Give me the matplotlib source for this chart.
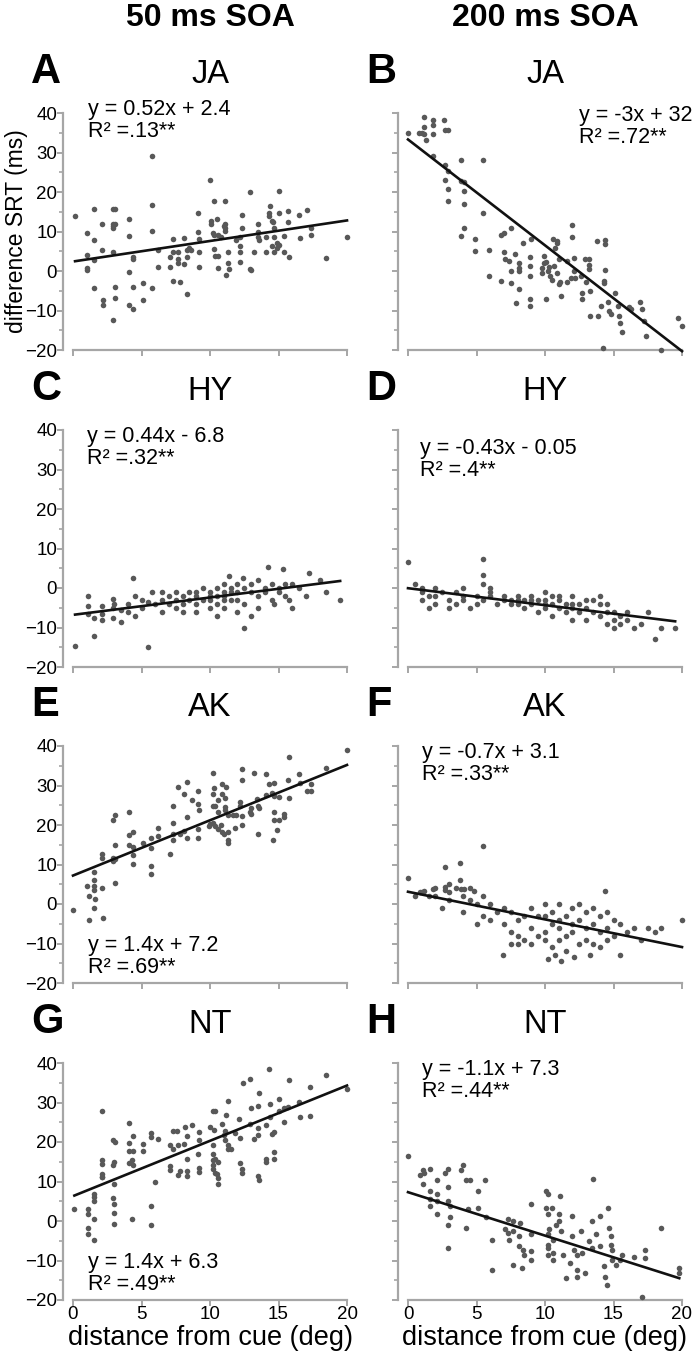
import numpy as np
import matplotlib.pyplot as plt

plt.rcParams['font.family'] = ['Liberation Sans', 'DejaVu Sans']

# (distance from cue deg, difference SRT ms)
ja50 = [(0.15,13.8),(1.05,9.6),(1.5,15.7),(1.5,7.9),(1.05,4.1),(1.05,0.8),(1.05,0.2),(1.5,2.8),(1.5,-4.2),
        (2.1,12.0),(2.1,5.3),(2.2,-7.4),(2.2,-8.5),(2.9,15.7),(2.9,12.0),(2.9,11.4),(2.9,10.8),(3.1,15.8),
        (3.1,11.9),(2.9,4.9),(3.1,-4.0),(3.1,-6.9),(2.9,-12.5),(4.1,13.1),(4.1,8.9),(4.1,-0.3),(4.1,-8.5),
        (4.4,-9.7),(4.4,3.6),(4.4,3.1),(4.4,-4.0),(5.1,-3.1),(5.1,-7.4),(5.8,29.1),(5.8,16.8),(5.8,10.2),
        (5.8,-4.2),(6.2,5.3),(6.2,1.0),(7.1,1.0),(7.3,8.1),(7.1,3.6),(7.3,-2.5),(7.3,4.7),(7.7,4.7),(7.7,2.1),
        (7.8,-2.8),(7.7,3.0),(8.1,1.7),(8.1,8.4),(8.3,5.3),(8.3,3.6),(8.3,-5.7),(8.5,5.8),(8.6,5.3),(9.1,14.6),
        (9.1,9.9),(9.2,8.1),(9.2,4.8),(9.2,1.1),(10.0,23.0),(10.1,12.7),(10.1,12.0),(10.2,9.6),(10.3,17.8),
        (10.3,9.2),(10.3,5.5),(10.4,3.7),(10.5,13.1),(10.6,9.2),(10.6,3.8),(10.6,0.8),(10.8,8.5),(11.0,11.4),
        (11.1,12.0),(11.1,10.8),(11.1,17.8),(11.1,10.2),(11.3,4.8),(11.2,-1.1),(11.3,1.9),(11.4,0.6),(11.9,7.9),
        (12.2,6.4),(12.2,4.7),(12.2,2.3),(12.3,14.2),(12.3,10.9),(12.2,8.5),(12.9,19.9),(12.9,0.6),(13.0,0.2),
        (13.2,4.7),(13.5,11.9),(13.5,8.5),(13.5,9.9),(13.6,7.9),(14.1,8.7),(14.1,4.7),(14.3,14.6),(14.3,13.8),
        (14.4,16.4),(14.5,6.4),(14.5,12.7),(14.6,12.4),(14.7,11.0),(14.7,4.7),(14.7,8.7),(14.9,5.9),(14.9,7.2),
        (15.0,6.6),(15.0,20.2),(15.0,14.8),(15.4,8.9),(15.4,4.9),(15.7,15.3),(15.7,12.5),(15.8,3.6),(16.5,14.2),
        (16.6,8.4),(17.1,15.4),(17.4,10.8),(17.4,9.2),(18.5,3.2),(20.0,8.6)]

ja200 = [(0.0,34.9),(0.8,34.9),(1.0,34.9),(1.2,39.0),(1.2,36.4),(1.2,34.6),(1.3,33.1),(1.8,38.3),(1.85,37.0),
         (1.85,34.6),(2.65,38.3),(2.7,35.6),(2.9,35.6),(1.85,29.2),(2.7,26.9),(2.9,25.4),(3.9,28.0),(5.5,28.0),
         (2.7,23.1),(3.9,22.9),(4.1,22.5),(2.9,20.8),(4.1,20.3),(2.9,17.6),(4.1,16.9),(5.5,14.8),(4.1,10.8),
         (3.85,8.9),(4.9,8.2),(4.9,5.1),(5.9,5.3),(6.8,9.2),(7.0,9.6),(7.5,10.8),(7.0,4.8),(7.1,3.1),(7.4,2.5),
         (7.8,4.2),(8.1,2.1),(8.1,0.7),(8.1,0.0),(7.5,0.0),(5.9,-1.3),(6.8,-2.5),(7.5,-3.0),(8.1,-4.5),(7.9,-8.1),
         (8.9,-7.2),(8.9,-8.9),(8.9,3.6),(8.9,1.3),(8.9,-1.3),(8.4,7.0),(9.0,8.2),(9.9,3.8),(9.8,0.8),(9.8,-0.4),
         (9.95,1.9),(10.1,2.4),(10.2,0.0),(10.3,1.1),(10.4,-1.3),(10.5,-2.4),(10.6,8.1),(10.7,5.9),(10.85,7.2),
         (10.9,7.5),(10.65,1.3),(10.9,-0.4),(11.0,3.0),(11.0,-3.4),(11.1,-2.8),(11.2,-6.4),(10.1,-7.2),(11.6,2.5),
         (11.6,-2.8),(12.0,11.7),(12.0,8.5),(12.1,3.4),(12.1,0.0),(12.2,-1.7),(11.9,-1.7),(12.6,-1.3),(12.7,-5.5),
         (12.7,-7.2),(12.9,3.0),(13.0,-2.8),(13.2,3.0),(13.2,1.5),(13.2,0.4),(13.3,-5.1),(13.3,-11.4),(13.8,7.5),
         (14.4,7.9),(14.4,6.8),(14.4,0.2),(14.3,-2.5),(14.3,-3.1),(13.9,-11.4),(14.1,-8.9),(14.6,-7.9),(14.7,-10.2),
         (14.8,-10.8),(15.1,-5.5),(15.3,-8.9),(15.4,-11.3),(15.5,-13.1),(16.1,-9.2),(16.3,-9.7),(16.9,-7.8),
         (17.1,-9.7),(17.2,-12.7),(19.7,-12.0),(14.2,-19.5),(18.5,-20.0),(15.6,-15.5),(17.4,-16.5),(20.0,-14.0)]

hy50 = [(0.15,-14.8),(1.1,-2.0),(1.1,-4.6),(1.1,-6.5),(1.5,-7.5),(1.5,-12.2),(2.1,-4.6),(2.1,-6.6),(2.1,-8.0),
        (2.9,-2.8),(2.9,-5.0),(2.9,-7.5),(3.5,-8.5),(3.5,-5.5),(4.0,-4.0),(4.0,-6.0),(4.4,2.5),(4.5,-2.0),
        (4.5,-7.0),(5.0,-3.0),(5.0,-5.0),(5.5,-15.0),(5.5,-3.5),(5.8,-1.0),(6.0,-4.0),(6.5,-1.0),(6.5,-6.0),
        (7.0,-2.0),(7.0,-4.0),(7.5,-1.0),(7.5,-3.0),(8.0,-2.0),(8.0,-4.0),(8.0,-6.0),(8.5,-1.0),(8.5,-3.0),
        (9.0,-2.0),(9.0,-4.0),(9.0,-6.0),(9.5,0.0),(9.5,-3.0),(10.0,-1.0),(10.0,-2.0),(10.0,-3.0),(10.0,-5.0),
        (10.5,0.0),(10.5,-2.0),(10.5,-4.0),(10.5,-7.0),(11.0,1.0),(11.0,-1.0),(11.0,-2.0),(11.0,-3.0),(11.0,-5.0),
        (11.4,3.0),(11.5,0.0),(11.5,-1.0),(11.5,-3.0),(12.0,1.0),(12.0,-1.0),(12.0,-6.0),(12.4,2.5),(12.5,0.0),
        (12.5,-4.0),(12.5,-10.0),(13.0,1.0),(13.0,-1.0),(13.0,-7.0),(13.5,-2.0),(13.5,2.0),(14.0,-1.0),(14.0,0.0),
        (14.2,5.4),(14.5,1.0),(14.5,-3.0),(15.0,0.0),(15.0,-1.0),(15.3,4.8),(15.5,1.0),(15.5,-2.0),(16.0,1.0),
        (16.0,-5.0),(17.0,-2.0),(17.2,3.7),(18.0,2.0),(18.5,-1.0),(19.5,-3.0),(13.5,-5.0),(12.0,-3.0),(9.0,-1.0),
        (7.5,-5.0),(6.5,-3.0),(3.0,-4.0),(14.7,-4.0),(15.8,-3.0),(16.5,0.0)]

hy200 = [(0.0,6.5),(0.5,1.0),(1.0,0.0),(1.0,-1.0),(1.0,-3.0),(1.5,-2.0),(1.5,-5.0),(2.0,0.0),(2.0,-2.0),
         (2.0,-4.0),(2.5,-1.0),(3.0,-3.0),(3.0,-5.0),(3.5,-1.0),(3.5,-4.0),(4.0,0.0),(4.0,-3.0),(4.0,-2.0),
         (4.5,-5.0),(5.0,-2.0),(5.0,-4.0),(5.5,7.4),(5.5,3.3),(5.5,1.0),(5.5,-3.0),(6.0,0.0),(6.0,-1.0),(6.0,-2.0),
         (6.5,-4.0),(7.0,-2.0),(7.0,-3.0),(7.5,-3.0),(7.5,-4.0),(8.0,-3.0),(8.0,-2.0),(8.0,-4.0),(8.5,-3.0),
         (8.5,-5.0),(9.0,-2.0),(9.0,-4.0),(9.0,-3.0),(9.5,-3.0),(9.5,-6.0),(10.0,-3.0),(10.0,-4.0),(10.0,-5.0),
         (10.0,-1.0),(10.5,-2.0),(10.5,-4.0),(10.5,-7.0),(11.0,-5.0),(11.0,-3.0),(11.0,-2.0),(11.5,-4.0),(11.5,-6.0),
         (12.0,-4.0),(12.0,-5.0),(12.0,-2.0),(12.0,-8.0),(12.5,-4.0),(12.5,-6.0),(13.0,-5.0),(13.0,-3.0),(13.0,-8.0),
         (13.5,-3.0),(13.5,-6.0),(14.0,-4.0),(14.0,-2.0),(14.0,-7.0),(14.5,-6.0),(14.5,-9.0),(14.5,-4.0),(15.0,-6.0),
         (15.0,-8.0),(15.0,-10.0),(15.5,-7.0),(15.5,-9.0),(16.0,-6.0),(16.0,-8.0),(16.5,-10.0),(17.0,-9.0),
         (17.5,-6.0),(18.0,-13.0),(18.5,-10.0),(19.5,-10.0)]

ak50 = [(20.0,39.0),(15.8,37.3),(10.2,33.2),(12.3,34.1),(13.2,33.2),(14.1,33.0),(12.3,31.5),(18.5,34.4),(16.5,33.0),
        (15.7,31.5),(14.7,30.7),(14.3,30.4),(14.5,28.1),(14.7,27.4),(14.1,27.7),(13.4,26.6),(15.0,27.2),(15.8,26.8),
        (17.4,30.4),(17.4,28.5),(17.1,28.5),(16.6,30.7),(7.7,29.6),(8.3,30.9),(8.1,27.9),(8.7,26.4),(9.1,28.5),
        (9.1,25.3),(9.2,23.8),(10.2,27.9),(10.3,29.3),(10.9,30.3),(11.2,29.7),(10.9,27.9),(11.1,26.8),(10.6,26.3),
        (10.2,24.9),(10.4,24.9),(11.1,24.6),(11.1,23.8),(10.6,23.2),(11.3,22.6),(11.7,22.5),(12.2,25.7),(12.2,24.7),
        (11.9,22.6),(12.3,22.3),(13.0,24.4),(12.9,23.3),(13.0,22.9),(13.5,24.7),(13.6,24.4),(14.7,23.2),(15.4,22.7),
        (15.4,21.9),(14.7,21.3),(15.0,21.3),(14.9,18.7),(14.6,16.3),(13.5,17.6),(12.3,19.9),(11.8,19.3),(11.3,18.3),
        (11.3,15.5),(11.3,16.1),(11.0,17.6),(10.6,18.9),(10.4,19.7),(10.2,20.6),(10.0,20.3),(9.9,19.7),(10.8,19.9),
        (10.9,18.2),(9.1,18.9),(9.1,16.8),(8.3,21.9),(8.3,16.8),(8.1,18.5),(7.8,17.8),(7.3,24.9),(7.3,20.4),
        (7.3,17.6),(7.3,16.3),(7.1,12.7),(6.2,19.3),(6.2,17.2),(5.7,16.6),(5.7,14.2),(5.7,9.7),(5.7,7.6),(5.1,15.5),
        (4.4,18.3),(4.1,23.2),(4.1,17.4),(4.1,15.0),(4.4,14.4),(4.4,12.3),(4.4,10.1),(3.1,22.5),(2.9,21.2),
        (3.1,15.0),(3.1,11.5),(2.9,10.8),(2.9,11.6),(3.1,5.2),(2.1,12.6),(2.1,11.6),(1.5,8.0),(1.5,6.1),(1.05,4.6),
        (1.5,4.6),(2.1,4.1),(1.5,3.5),(0.0,-1.5),(1.2,-4.0),(1.5,-1.0),(1.6,1.3),(2.2,-3.5),(1.2,2.0)]

ak200 = [(0.0,6.5),(2.7,9.3),(3.8,10.3),(5.5,14.6),(3.8,6.1),(2.7,4.4),(1.85,3.9),(1.2,3.2),(0.9,3.1),(2.7,3.5),
         (3.9,3.9),(4.1,3.9),(4.8,3.2),(14.4,3.2),(0.5,2.0),(1.0,3.0),(1.5,2.0),(2.0,4.0),(2.0,2.0),(2.5,-1.0),
         (3.0,5.0),(3.0,3.0),(3.0,1.0),(3.5,4.0),(4.0,2.0),(4.0,-2.0),(4.5,4.0),(4.5,1.0),(5.0,0.0),(5.0,-5.0),
         (5.5,2.0),(5.5,-3.0),(6.0,0.0),(6.0,-4.0),(6.5,-2.0),(7.0,-1.0),(7.0,-5.0),(7.5,-2.0),(7.5,-7.0),
         (7.5,-10.0),(8.0,-4.0),(8.0,-8.0),(8.0,-10.0),(8.5,-3.0),(8.5,-9.0),(9.0,-1.0),(9.0,-6.0),(9.0,-10.0),
         (9.5,-3.0),(9.5,-8.0),(10.0,0.0),(10.0,-3.0),(10.0,-7.0),(10.0,-9.0),(10.5,-2.0),(10.5,-5.0),(10.5,-11.0),
         (11.0,0.0),(11.0,-4.0),(11.0,-6.0),(11.0,-9.0),(11.2,-14.5),(11.5,-3.0),(11.5,-8.0),(11.5,-12.0),
         (12.0,-1.0),(12.0,-5.0),(12.0,-7.0),(12.1,-13.4),(12.5,0.0),(12.5,-4.0),(12.5,-10.0),(13.0,-2.0),
         (13.0,-6.0),(13.0,-9.0),(13.3,-12.8),(13.5,-1.0),(13.5,-5.0),(13.5,-10.0),(14.0,-3.0),(14.0,-7.0),
         (14.0,-11.0),(14.5,-2.0),(14.5,-6.0),(14.5,-9.0),(15.0,-4.0),(15.0,-8.0),(15.5,-5.0),(15.5,-12.8),
         (16.0,-7.0),(16.5,-6.0),(17.0,-9.0),(17.5,-6.0),(18.0,-7.0),(18.5,-6.0),(20.0,-4.0),(6.9,-12.8),
         (10.2,-14.0),(10.7,-13.0)]

nt50 = [(2.1,27.8),(2.9,20.4),(3.1,20.0),(4.1,24.9),(4.1,19.8),(4.1,17.6),(4.4,17.6),(4.4,21.6),(4.1,14.6),
        (4.4,14.1),(5.1,19.6),(5.1,17.6),(5.7,22.4),(5.7,21.3),(6.2,20.7),(2.1,14.5),(2.9,14.1),(2.1,11.2),
        (7.1,19.3),(7.3,22.8),(7.3,18.3),(7.7,19.3),(7.6,22.8),(8.2,23.7),(8.3,21.5),(8.1,19.4),(8.7,24.3),
        (8.3,15.7),(7.1,12.9),(7.7,11.6),(8.3,11.5),(9.2,22.6),(9.2,20.4),(9.1,17.0),(9.2,12.5),(10.0,23.7),
        (10.2,27.8),(10.4,27.8),(10.3,23.0),(10.2,19.3),(10.2,17.0),(10.4,15.7),(10.6,15.0),(10.2,13.2),(10.4,12.2),
        (10.6,10.9),(10.9,24.5),(11.0,21.7),(11.2,26.9),(11.3,30.4),(11.1,22.9),(11.1,20.4),(11.3,18.3),(11.3,19.3),
        (11.5,18.3),(12.1,25.9),(11.8,22.2),(12.2,21.0),(12.2,14.8),(12.3,12.2),(12.4,34.9),(12.9,36.0),(13.0,28.5),
        (12.9,24.6),(13.2,20.7),(13.5,29.1),(13.6,32.4),(13.5,23.6),(13.5,21.7),(13.6,10.5),(14.1,24.3),(14.1,15.0),
        (14.3,38.6),(14.4,29.7),(14.4,26.3),(14.5,21.9),(14.7,22.6),(14.7,17.4),(14.7,15.7),(15.0,30.8),(15.0,27.8),
        (15.4,25.0),(15.4,28.7),(15.8,35.6),(15.7,28.8),(16.5,30.2),(16.6,26.3),(17.3,33.9),(17.3,26.5),(18.5,36.9),
        (0.1,3.0),(1.1,3.0),(1.1,1.7),(1.1,-1.7),(1.1,-3.2),(1.5,6.8),(1.5,6.0),(1.5,5.1),(1.5,0.6),(1.5,-4.7),
        (2.1,15.4),(2.1,12.0),(2.1,11.1),(3.0,15.0),(3.0,9.4),(2.9,5.7),(3.0,4.3),(3.0,2.0),(3.0,-0.7),(4.3,15.4),
        (4.3,0.6),(6.0,9.8),(5.7,3.8),(5.7,-0.9),(7.1,13.9),(7.8,12.6),(8.3,12.6),(9.2,13.4),(10.2,14.1),
        (10.2,15.4),(10.5,12.0),(10.6,9.4),(12.3,13.2),(13.5,11.5),(14.1,15.8),(20.0,33.5)]

nt200 = [(0.0,16.4),(0.9,11.7),(1.2,12.2),(2.7,12.2),(3.9,13.0),(1.1,12.8),(1.1,9.4),(1.6,13.2),(1.6,7.7),
         (1.6,5.6),(1.6,3.8),(2.1,10.3),(2.1,6.8),(2.1,5.1),(2.1,1.7),(2.9,13.2),(2.9,8.5),(2.9,5.1),(3.1,3.8),
         (2.9,-0.9),(3.1,0.9),(2.9,-6.8),(4.0,14.1),(4.2,10.3),(4.5,10.3),(4.2,-1.7),(4.4,3.0),(5.6,10.3),
         (5.1,7.7),(5.1,3.2),(5.7,0.9),(6.1,-4.7),(6.1,-12.4),(7.1,-2.1),(7.3,0.4),(7.3,-3.0),(7.4,-4.7),(7.7,0.0),
         (7.7,-2.6),(8.1,-3.8),(8.1,-6.4),(8.2,-0.4),(8.4,-7.3),(8.5,-8.5),(7.7,-11.1),(8.3,-12.0),(9.0,4.3),
         (9.0,-3.4),(9.0,-7.7),(9.0,-9.8),(10.1,7.7),(10.2,6.8),(10.1,3.2),(10.2,1.7),(10.2,-3.4),(10.2,-6.0),
         (10.2,-6.8),(10.2,-8.5),(10.3,-2.1),(10.5,3.4),(10.6,-4.7),(10.6,-8.1),(10.6,-9.8),(10.8,-0.9),(11.0,1.7),
         (11.0,0.0),(11.1,6.4),(11.2,-2.6),(11.3,-8.5),(11.5,-14.5),(11.8,-10.7),(12.0,1.3),(12.0,-3.8),(12.1,-7.3),
         (12.3,-8.5),(12.3,-12.4),(12.3,-14.1),(12.6,-2.6),(12.7,-8.1),(12.9,-13.2),(13.2,-5.0),(13.4,0.0),
         (13.4,-6.8),(13.5,10.7),(13.7,-3.4),(14.0,-6.4),(14.0,1.3),(14.3,-11.5),(14.4,-14.1),(14.5,-16.2),
         (14.6,3.4),(14.7,-1.7),(14.8,-3.8),(14.8,-6.0),(14.9,-7.3),(14.9,-9.8),(15.2,-11.1),(15.5,-9.8),
         (15.6,-8.5),(16.5,-9.0),(17.3,-7.3),(17.3,-9.4),(17.1,-19.2),(18.5,-1.7),(19.8,-12.0),(19.8,-13.2)]

letters = ['A', 'B', 'C', 'D', 'E', 'F', 'G', 'H']
subjects = ['JA', 'JA', 'HY', 'HY', 'AK', 'AK', 'NT', 'NT']
datasets = [ja50, ja200, hy50, hy200, ak50, ak200, nt50, nt200]
equations = ['y = 0.52x + 2.4', 'y = -3x + 32', 'y = 0.44x - 6.8', 'y = -0.43x - 0.05',
             'y = 1.4x + 7.2', 'y = -0.7x + 3.1', 'y = 1.4x + 6.3', 'y = -1.1x + 7.3']
r2_text = ['.13**', '.72**', '.32**', '.4**', '.69**', '.33**', '.49**', '.44**']
# regression lines as drawn (slope, intercept)
slopes = [0.52, -2.68, 0.44, -0.43, 1.4, -0.7, 1.4, -1.1]
intercepts = [2.4, 33.3, -6.8, -0.05, 7.2, 3.1, 6.3, 7.3]
eq_place = ['tl_hi', 'tr', 'tl', 'tl_lo', 'bl', 'tl', 'bl', 'tl']

W, H = 697, 1361
fig = plt.figure(figsize=(W / 100, H / 100), dpi=100)

col_left = [73, 408]
ax_w = 274
row_top = [113, 430, 746, 1063]
ax_h = 237
spine_col = '#a6a6a6'
eq_kw = dict(fontsize=15.5, ha='left', linespacing=1.05)

for i in range(8):
    r, c = divmod(i, 2)
    ax = fig.add_axes([col_left[c] / W, 1 - (row_top[r] + ax_h) / H, ax_w / W, ax_h / H])
    pts = np.array(datasets[i])
    x, y = pts[:, 0], pts[:, 1]
    ax.scatter(x, y, s=16, color='#585858', linewidths=0, clip_on=False, zorder=3)
    xl = np.array([x.min(), x.max()])
    ax.plot(xl, slopes[i] * xl + intercepts[i], color='#111111', lw=1.9, zorder=4, clip_on=False)

    ax.set_xlim(0, 20)
    ax.set_ylim(-20, 40)
    ax.set_xticks([0, 5, 10, 15, 20])
    ax.set_yticks([-20, -10, 0, 10, 20, 30, 40])
    ax.set_yticks([-15, -5, 5, 15, 25, 35], minor=True)
    for s in ['top', 'right']:
        ax.spines[s].set_visible(False)
    for s in ['left', 'bottom']:
        ax.spines[s].set_color(spine_col)
        ax.spines[s].set_linewidth(1.6)
    ax.spines['left'].set_position(('outward', 7))
    ax.tick_params(which='major', color=spine_col, length=4, width=1.4, labelsize=13.5, pad=0.5)
    ax.tick_params(which='minor', color=spine_col, length=3, width=1.2)
    if c == 1:
        ax.tick_params(axis='y', labelleft=False)
    if r < 3:
        ax.tick_params(axis='x', labelbottom=False)
    else:
        ax.set_xlabel('distance from cue (deg)', fontsize=19.5, labelpad=1)
    if i == 0:
        ax.set_ylabel('difference SRT (ms)', fontsize=16.5)
        ax.yaxis.set_label_coords(-0.165, 0.5)

    txt = equations[i] + '\nR\u00b2 =' + r2_text[i]
    p = eq_place[i]
    if p == 'tl_hi':
        ax.text(1.1, 43.5, txt, va='top', **eq_kw)
    elif p == 'tl':
        ax.text(1.0, 41, txt, va='top', **eq_kw)
    elif p == 'tl_lo':
        ax.text(0.9, 38, txt, va='top', **eq_kw)
    elif p == 'tr':
        ax.text(12.5, 42, txt, va='top', **eq_kw)
    else:
        ax.text(1.1, -18.7, txt, va='bottom', **eq_kw)

    top = row_top[r]
    fig.text((col_left[c] + ax_w / 2) / W, 1 - (top - 30) / H, subjects[i], fontsize=23.5,
             ha='center', va='baseline')
    fig.text((col_left[c] - 42) / W, 1 - (top - 30) / H, letters[i], fontsize=30,
             fontweight='bold', ha='left', va='baseline')

fig.text((col_left[0] + ax_w / 2) / W, 1 - 26 / H, '50 ms SOA', fontsize=23,
         fontweight='bold', ha='center', va='baseline')
fig.text((col_left[1] + ax_w / 2) / W, 1 - 26 / H, '200 ms SOA', fontsize=23,
         fontweight='bold', ha='center', va='baseline')

fig.savefig('out.png', dpi=100)
